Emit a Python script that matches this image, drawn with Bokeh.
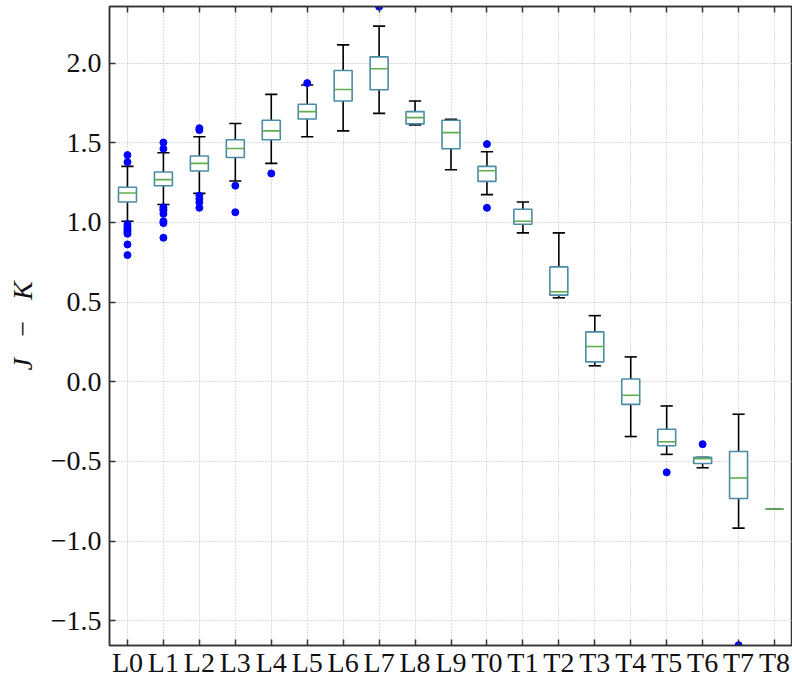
import numpy as np
from bokeh.plotting import figure
from bokeh.models import Range1d, FixedTicker, LinearAxis
from bokeh.embed import file_html
from bokeh.resources import INLINE

# Spectral types along the x axis
cats = ["L0", "L1", "L2", "L3", "L4", "L5", "L6", "L7", "L8", "L9",
        "T0", "T1", "T2", "T3", "T4", "T5", "T6", "T7", "T8"]

# Box-plot statistics of J - K colour per spectral type
whisk_lo = [1.008, 1.113, 1.183, 1.260, 1.371, 1.538, 1.575, 1.685, 1.613, 1.331,
            1.175, 0.935, 0.527, 0.100, -0.344, -0.456, -0.540, -0.919, -0.800]
q1 = [1.129, 1.231, 1.323, 1.408, 1.519, 1.650, 1.763, 1.833, 1.619, 1.463,
      1.258, 0.989, 0.544, 0.125, -0.142, -0.402, -0.513, -0.733, -0.800]
median = [1.185, 1.269, 1.371, 1.464, 1.575, 1.696, 1.835, 1.965, 1.658, 1.564,
          1.325, 1.008, 0.565, 0.221, -0.085, -0.377, -0.483, -0.604, -0.800]
q3 = [1.221, 1.317, 1.417, 1.519, 1.642, 1.742, 1.954, 2.040, 1.696, 1.642,
      1.352, 1.083, 0.721, 0.313, 0.017, -0.298, -0.475, -0.438, -0.800]
whisk_hi = [1.352, 1.438, 1.538, 1.621, 1.804, 1.863, 2.115, 2.233, 1.763, 1.648,
            1.444, 1.129, 0.935, 0.415, 0.156, -0.152, -0.475, -0.204, -0.800]

# Fliers
out_cat = (["L0"] * 10 + ["L1"] * 9 + ["L2"] * 6 + ["L3"] * 2 + ["L4", "L5", "L7"]
           + ["T0"] * 2 + ["T5", "T6", "T7"])
out_val = [1.423, 1.379, 0.990, 0.975, 0.962, 0.950, 0.940, 0.929, 0.862, 0.795,
           1.502, 1.463, 1.096, 1.085, 1.075, 1.054, 1.008, 0.996, 0.904,
           1.592, 1.580, 1.169, 1.148, 1.127, 1.092,
           1.231, 1.064,
           1.308, 1.875, 2.355,
           1.492, 1.092,
           -0.569, -0.392, -1.654]

y_ticks = [-1.5, -1.0, -0.5, 0.0, 0.5, 1.0, 1.5, 2.0]

pos = np.arange(1, len(cats) + 1)
idx = {c: i + 1 for i, c in enumerate(cats)}
out_x = [idx[c] for c in out_cat]

BOX = "#4a8ca6"
MED = "#62ad4f"
FONT = "Liberation Serif"

p = figure(width=792, height=680, output_backend="svg", toolbar_location=None,
           x_range=Range1d(0.5, len(cats) + 0.5), y_range=Range1d(-1.656, 2.356),
           min_border_left=109, min_border_right=0, min_border_top=6,
           min_border_bottom=33)
p.background_fill_color = "white"
p.border_fill_color = "white"
p.outline_line_color = "#333333"
p.outline_line_width = 1.5

xticker = FixedTicker(ticks=list(pos))
yticker = FixedTicker(ticks=y_ticks)

xa = p.xaxis[0]
xa.ticker = xticker
xa.major_label_overrides = {int(i): c for i, c in zip(pos, cats)}
ya = p.yaxis[0]
ya.ticker = yticker
ya.major_label_overrides = {t: f"{t:.1f}".replace("-", "\u2212") for t in y_ticks}
ya.axis_label = "J\u2002\u2009\u2212\u2002\u2009K"
ya.axis_label_text_font = FONT
ya.axis_label_text_font_style = "italic"
ya.axis_label_text_font_size = "28px"
ya.axis_label_text_color = "#111111"
ya.axis_label_standoff = 10

for ax in (xa, ya):
    ax.major_label_text_font = FONT
    ax.major_label_text_font_size = "28px"
    ax.major_label_text_color = "#111111"
    ax.major_tick_in = 6
    ax.major_tick_out = 0
    ax.minor_tick_line_color = None
    ax.major_tick_line_color = "#333333"
    ax.major_tick_line_width = 1.5
    ax.axis_line_color = "#333333"
    ax.axis_line_width = 1.5
xa.major_label_standoff = 1
ya.major_label_standoff = 8

# Inward ticks along the top edge, without labels
top = LinearAxis(ticker=xticker, major_label_text_font_size="1px",
                 major_label_text_color=None,
                 major_label_standoff=0, major_tick_in=6, major_tick_out=0,
                 minor_tick_line_color=None, major_tick_line_color="#333333",
                 major_tick_line_width=1.5, axis_line_color="#333333",
                 axis_line_width=1.5)
p.add_layout(top, "above")

p.xgrid.ticker = xticker
p.ygrid.ticker = yticker
for g in (p.xgrid, p.ygrid):
    g.grid_line_color = "#b8b8b8"
    g.grid_line_dash = "1 2"
    g.grid_line_width = 1

# Whiskers and caps
p.segment(pos, whisk_lo, pos, q1, line_color="black", line_width=1.6)
p.segment(pos, q3, pos, whisk_hi, line_color="black", line_width=1.6)
cap = 0.17
p.segment(pos - cap, whisk_lo, pos + cap, whisk_lo, line_color="black", line_width=1.6)
p.segment(pos - cap, whisk_hi, pos + cap, whisk_hi, line_color="black", line_width=1.6)

# Boxes and medians
p.vbar(x=pos, width=0.5, bottom=q1, top=q3, fill_color="white",
       line_color=BOX, line_width=1.6)
p.segment(pos - 0.25, median, pos + 0.25, median, line_color=MED, line_width=1.6)

# Fliers
p.scatter(out_x, out_val, size=7, fill_color="#0000ff", line_color="#0000ff")

open("out.html", "w").write(file_html(p, INLINE))
